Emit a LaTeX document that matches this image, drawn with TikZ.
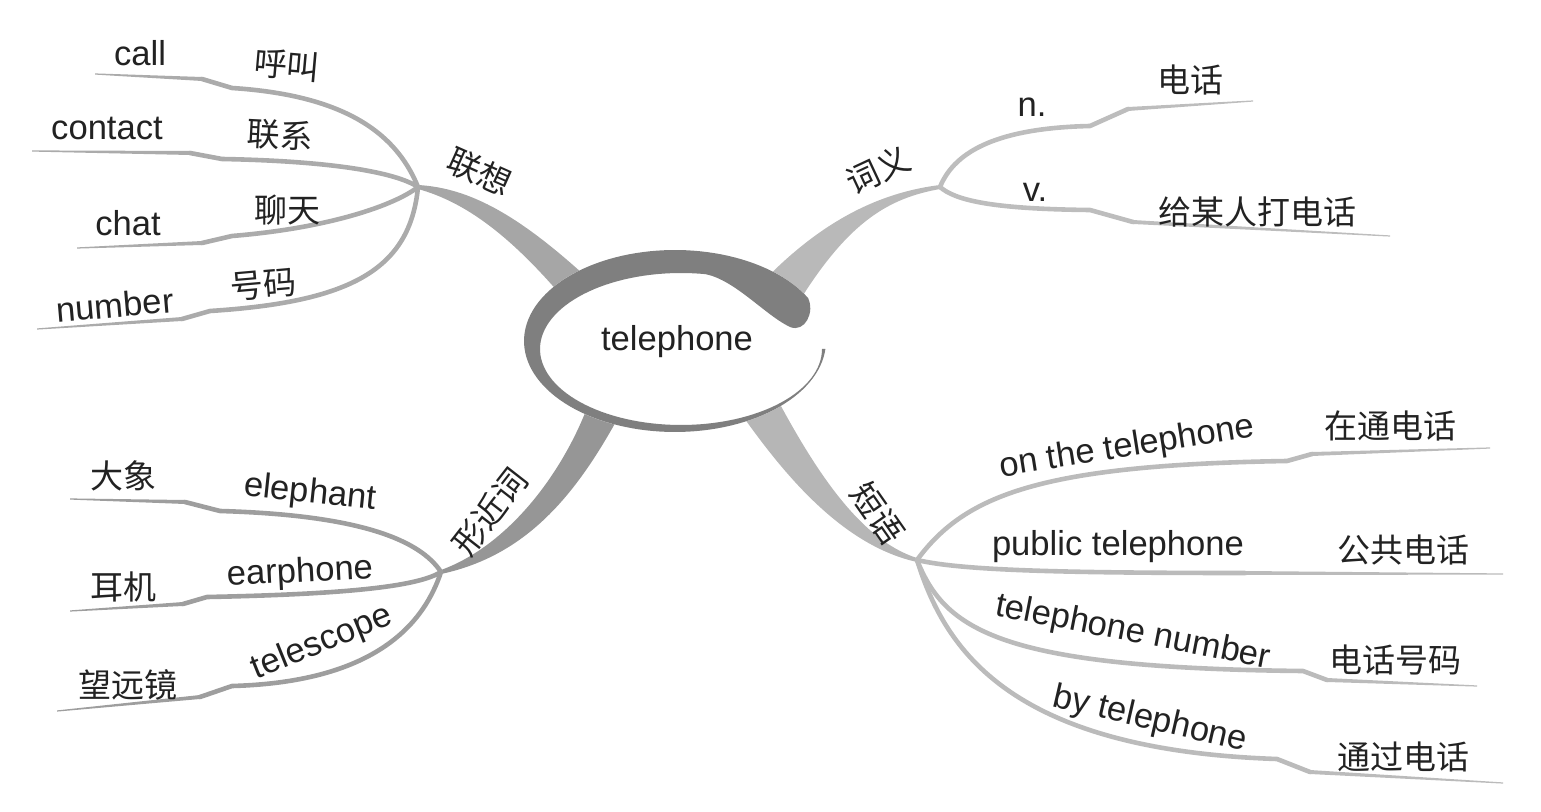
\documentclass[tikz,border=0pt]{standalone}
\usepackage{fontspec}
\setmainfont{Liberation Sans}
\newfontfamily\cjk{Noto Sans CJK SC}
\usetikzlibrary{calc}
\definecolor{ink}{HTML}{222222}
\definecolor{grL}{HTML}{ABABAB}
\definecolor{grR}{HTML}{BDBDBD}
\definecolor{grX}{HTML}{9E9E9E}
\definecolor{grS}{HTML}{BBBBBB}
\definecolor{mL}{HTML}{A6A6A6}
\definecolor{mR}{HTML}{B9B9B9}
\definecolor{mX}{HTML}{969696}
\definecolor{mS}{HTML}{B6B6B6}
\definecolor{swoosh}{HTML}{7F7F7F}
\tikzset{
  txt/.style={font=\fontsize{17.3}{20}\selectfont, text=ink, inner sep=0pt},
  cjktxt/.style={font=\cjk\fontsize{16.5}{20}\selectfont, text=ink, inner sep=0pt},
  twig/.style={line width=2.3pt, line cap=round, line join=round},
}
% #1 colour, #2 hub, #3 c1, #4 c2, #5 kink end B, #6 kink start A, #7 end E
\newcommand\twig[7]{%
  \draw[twig, draw=#1] (#2) .. controls #3 and #4 .. (#5) -- (#6);
  \fill[#1] ($(#6)+(0,-2)$) -- ($(#7)+(0,-0.6)$) -- ($(#7)+(0,0.6)$) -- ($(#6)+(0,2)$) -- cycle;}
\begin{document}
\begin{tikzpicture}[x=0.5pt,y=-0.5pt]
\useasboundingbox (0,0) rectangle (1541,812);

% hubs
\coordinate (H1) at (418,187);
\coordinate (H2) at (940,187);
\coordinate (H3) at (917,560);
\coordinate (H4) at (441,572);

% main branches
\fill[mL] ($(H1)+(0,-2)$) .. controls (470,188) and (520,215) .. (595,285) -- (565,300) .. controls (510,235) and (465,202) .. ($(H1)+(0,2)$) -- cycle;
\fill[mR] ($(H2)+(0,-2)$) .. controls (875,193) and (815,225) .. (755,290) -- (800,300) .. controls (850,220) and (890,198) .. ($(H2)+(0,2)$) -- cycle;
\fill[mX] ($(H4)+(0,-2)$) .. controls (510,545) and (565,470) .. (590,400) -- (625,405) .. controls (580,490) and (530,555) .. ($(H4)+(0,2)$) -- cycle;
\fill[mS] ($(H3)+(0,-2)$) .. controls (860,540) and (815,470) .. (775,395) -- (735,405) .. controls (780,470) and (840,545) .. ($(H3)+(0,2)$) -- cycle;

% left-top group
\coordinate (callB) at (232,88);  \coordinate (callA) at (202,79);  \coordinate (callE) at (95,74);
\coordinate (contB) at (222,159); \coordinate (contA) at (190,153); \coordinate (contE) at (32,151);
\coordinate (chatB) at (232,236); \coordinate (chatA) at (202,243); \coordinate (chatE) at (77,248);
\coordinate (numB) at (210,311);  \coordinate (numA) at (182,319);  \coordinate (numE) at (37,329);
\twig{grL}{H1}{(395,130)}{(340,95)}{callB}{callA}{callE}
\twig{grL}{H1}{(395,172)}{(330,161)}{contB}{contA}{contE}
\twig{grL}{H1}{(395,205)}{(330,228)}{chatB}{chatA}{chatE}
\twig{grL}{H1}{(410,270)}{(350,302)}{numB}{numA}{numE}

% right-top group
\coordinate (nB) at (1090,126); \coordinate (nA) at (1128,109); \coordinate (nE) at (1253,101);
\coordinate (vB) at (1090,210); \coordinate (vA) at (1133,222); \coordinate (vE) at (1390,236);
\twig{grR}{H2}{(955,150)}{(1000,128)}{nB}{nA}{nE}
\twig{grR}{H2}{(955,200)}{(990,209)}{vB}{vA}{vE}

% right-bottom group
\coordinate (onB) at (1287,461);  \coordinate (onA) at (1312,454);  \coordinate (onE) at (1490,448);
\coordinate (pubB) at (1245,573); \coordinate (pubA) at (1245,573); \coordinate (pubE) at (1503,574);
\coordinate (tnB) at (1303,671);  \coordinate (tnA) at (1327,680);  \coordinate (tnE) at (1477,686);
\coordinate (byB) at (1277,759);  \coordinate (byA) at (1310,772);  \coordinate (byE) at (1503,783);
\twig{grS}{H3}{(965,495)}{(1040,465)}{onB}{onA}{onE}
\twig{grS}{H3}{(960,570)}{(1050,573)}{pubB}{pubA}{pubE}
\twig{grS}{H3}{(945,630)}{(1000,668)}{tnB}{tnA}{tnE}
\twig{grS}{H3}{(945,650)}{(1010,750)}{byB}{byA}{byE}

% left-bottom group
\coordinate (eleB) at (220,511); \coordinate (eleA) at (185,502); \coordinate (eleE) at (70,499);
\coordinate (earB) at (207,597); \coordinate (earA) at (183,604); \coordinate (earE) at (70,611);
\coordinate (telB) at (232,686); \coordinate (telA) at (200,697); \coordinate (telE) at (57,711);
\twig{grX}{H4}{(420,540)}{(360,515)}{eleB}{eleA}{eleE}
\twig{grX}{H4}{(420,585)}{(360,594)}{earB}{earA}{earE}
\twig{grX}{H4}{(425,620)}{(380,682)}{telB}{telA}{telE}

% centre
\fill[white] (675,341) ellipse [x radius=151, y radius=91];
\fill[swoosh] plot[domain=28:355, samples=120] ({675+151*cos(\x)},{341-91*sin(\x)})
  -- plot[domain=360:80, samples=100] ({681+141*cos(\x)},{349-76*sin(\x)})
  .. controls (735,280) and (765,315) .. (790,327)
  .. controls (805,333) and (815,312) .. (808,298) -- cycle;
\node[txt] (center) at (677,342) {telephone};

% branch labels
\node[cjktxt, rotate=-24] (lx) at (480,172) {联想};
\node[cjktxt, rotate=25] (cy) at (878,170) {词义};
\node[cjktxt, rotate=52] (xj) at (490,512) {形近词};
\node[cjktxt, rotate=-55] (dy) at (878,513) {短语};

% left-top labels
\node[txt] (call) at (140,53) {call};
\node[cjktxt, rotate=-5] (hj) at (287,65) {呼叫};
\node[txt] (contact) at (107,128) {contact};
\node[cjktxt, rotate=-3] (lxi) at (280,135) {联系};
\node[txt] (chat) at (128,223) {chat};
\node[cjktxt] (lt) at (287,210) {聊天};
\node[txt, rotate=5] (number) at (115,305) {number};
\node[cjktxt, rotate=5] (hm) at (263,285) {号码};

% right-top labels
\node[txt] (n) at (1032,107) {n.};
\node[cjktxt] (dh) at (1190,80) {电话};
\node[txt] (v) at (1035,192) {v.};
\node[cjktxt] (gmr) at (1257,212) {给某人打电话};

% right-bottom labels
\node[txt, rotate=9] (on) at (1127,448) {on the telephone};
\node[cjktxt] (ztdh) at (1390,426) {在通电话};
\node[txt] (pub) at (1118,547) {public telephone};
\node[cjktxt] (ggdh) at (1403,550) {公共电话};
\node[txt, rotate=-11] (tn) at (1133,633) {telephone number};
\node[cjktxt] (dhhm) at (1395,660) {电话号码};
\node[txt, rotate=-13] (by) at (1150,720) {by telephone};
\node[cjktxt] (tgdh) at (1403,757) {通过电话};

% left-bottom labels
\node[cjktxt] (dx) at (123,476) {大象};
\node[txt, rotate=-6] (ele) at (310,494) {elephant};
\node[cjktxt] (ej) at (123,587) {耳机};
\node[txt, rotate=3] (ear) at (300,573) {earphone};
\node[cjktxt] (wyj) at (128,685) {望远镜};
\node[txt, rotate=22] (tel) at (322,643) {telescope};
\end{tikzpicture}
\end{document}
